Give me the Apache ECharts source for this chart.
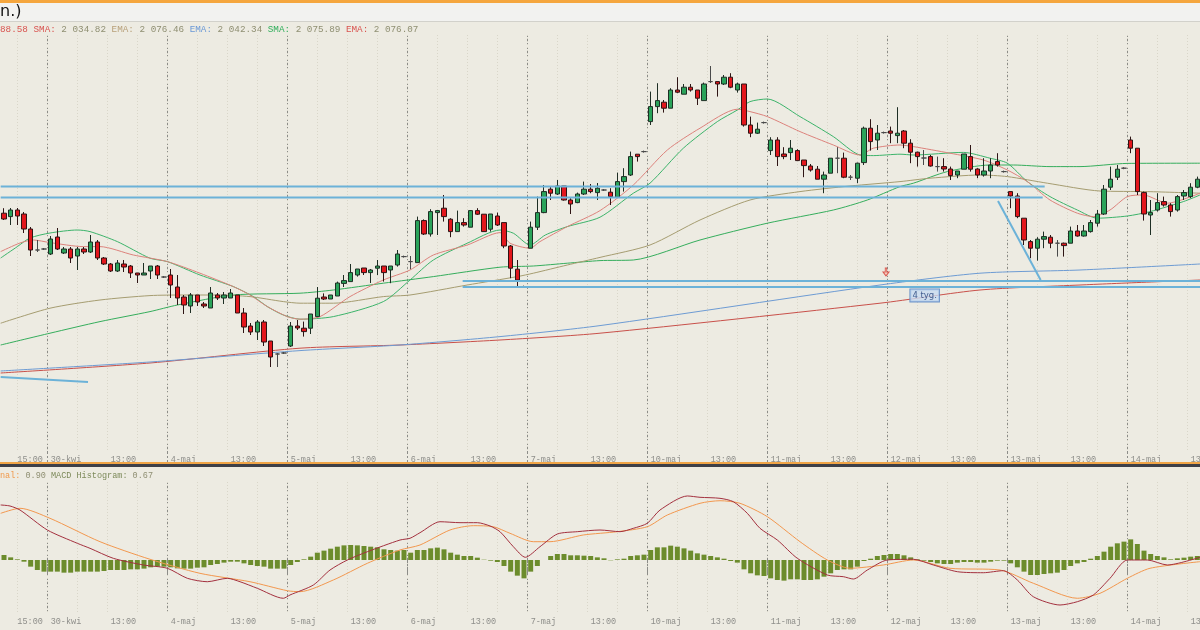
<!DOCTYPE html>
<html><head><meta charset="utf-8">
<script src="https://cdn.jsdelivr.net/npm/echarts@6/dist/echarts.min.js"></script>
<style>html,body{margin:0;padding:0;background:#edebe2;}#c{width:1200px;height:630px;}</style>
</head><body><div id="c"></div>
<script>
// ---- tick labels (bar index -> text)
const tickIndex = [2,7,16,25,34,43,52,61,70,79,88,97,106,115,124,133,142,151,160,169,178];
const tickText = ['15:00','30-kwi','13:00','4-maj','13:00','5-maj','13:00','6-maj','13:00','7-maj','13:00','10-maj','13:00','11-maj','13:00','12-maj','13:00','13-maj','13:00','14-maj','13:00'];

// ---- candles
const opens = [2063.4,2061.7,2065,2063,2055.5,2045,2045.5,2043,2051.5,2043.5,
2045.5,2042,2045.5,2044,2049,2041,2038,2034.5,2038,2037,
2033.5,2032.5,2034.5,2037,2031.5,2032.5,2026.5,2021.5,2017,2022.5,
2018,2016,2022.5,2021,2021,2022.5,2013.5,2007,2004,2009,
1999.5,1993,1993.5,1997,2007,2005.9,2005.9,2011.7,2021.5,2020.5,
2022,2028.3,2029.2,2032.5,2036,2033.7,2035.9,2037,2035,2037.5,
2041.7,2039.2,2038.7,2059.7,2053,2063.7,2065.9,2060.4,2054.2,2058.7,
2056.4,2064.7,2062.9,2055.4,2062,2058.7,2047,2035.4,2026.7,2045.9,
2056.4,2063.7,2075.4,2073,2077,2070,2068.7,2073,2075.4,2073.7,
2075,2073.9,2071.4,2079.2,2082.5,2092.9,2094.2,2109.2,2116.7,2118.9,
2115.9,2125,2122.9,2126.4,2125,2119.7,2129.2,2129.2,2128,2131.4,
2125,2128,2107.5,2103.4,2108.7,2094.7,2100,2093,2093.7,2094.7,
2090,2087,2085.4,2080.4,2083.4,2090.9,2090.9,2081.4,2080.9,2088.7,
2105.9,2100,2103.7,2104.5,2102.2,2104.5,2098.4,2093.9,2091,2091.7,
2086.7,2086.7,2085.5,2082.5,2085.4,2091.7,2085.5,2082.5,2084.5,2089.2,
2084.2,2074.2,2072,2060.9,2049.2,2045.9,2050.4,2051.4,2048.4,2048.4,
2048.4,2054.5,2052,2054.2,2058.4,2063,2076.4,2081.4,2085.9,2100,
2095.9,2073.7,2062.5,2065,2069.2,2067.5,2065,2072,2071.7,2076.4];
const closes = [2060.5,2065,2062,2055.5,2045,2045,2045.5,2050.5,2045.5,2045.5,
2041,2045.5,2044,2049,2041,2038,2034.5,2038.5,2036.5,2033.5,
2032.5,2033.5,2037,2032.5,2031.5,2027.5,2021,2017.5,2022.5,2019,
2017,2023.5,2021,2022.5,2023.5,2013.5,2006.5,2004,2009,1999,
1991.5,1993,1993.5,2007,2006,2004.2,2013,2020.9,2020.5,2022.5,
2028.5,2029.7,2033.7,2035.5,2033.7,2035,2037,2033.7,2037,2043,
2041.7,2039.2,2059.7,2053,2064.2,2064.7,2061.7,2054.2,2058.7,2057.5,
2064.7,2062.9,2054.2,2063,2057.5,2047,2035.9,2030,2026.7,2056.4,
2063.7,2074.2,2073.4,2077,2070,2068,2073,2075.4,2074.2,2075.9,
2075,2071.7,2079.2,2081.7,2091.7,2091.7,2094.2,2116.7,2119.7,2115.9,
2125,2123.9,2126.4,2125,2120.9,2128,2129.2,2128,2131.4,2126.4,
2128,2107.5,2103.4,2105.4,2108.7,2100,2091.7,2091.7,2095.9,2089.7,
2087.2,2085,2080.4,2082.5,2090.9,2090.9,2081.4,2081.4,2088.4,2105.9,
2099.2,2103.4,2103.7,2103.4,2103.4,2098.4,2093.9,2091.7,2091,2087,
2086.7,2085.5,2082.2,2084.5,2093,2085.4,2082.5,2084.5,2087.5,2087.5,
2084.2,2072,2061.7,2050,2045.9,2050.4,2051.7,2048.4,2048.4,2047.2,
2054.5,2052,2054.5,2058.7,2063,2075.4,2080.4,2085.4,2085.9,2095.9,
2074.2,2063,2063.7,2068.7,2067.5,2064.2,2071.7,2073.7,2076.4,2080.4];
const lows = [2060,2057.5,2057.5,2053.5,2042,2044,2045,2042.5,2045,2043,
2038.5,2035,2043,2043.5,2040,2037.5,2034,2034,2034,2031,
2028.5,2032.5,2030.5,2030.5,2031,2021,2017.5,2013,2013.5,2017,
2016,2016,2020,2018,2021,2013.5,2003.5,2002.5,2000,1997,
1986.5,1986.5,1993,1996.5,2005,2001.7,2003,2011.7,2020,2020.5,
2022,2026.5,2029.2,2031.7,2032.5,2028.5,2032.5,2029.2,2028.4,2036.7,
2041.2,2035.4,2038.7,2052.5,2051.7,2052.5,2059.2,2051.4,2054.2,2056.7,
2056.4,2062.5,2054.2,2054.2,2057,2045.9,2030.9,2027,2026.2,2045.9,
2055,2063.4,2070,2072.5,2069.7,2063,2068.4,2072.5,2073.4,2070,
2074.5,2067.5,2071.4,2074.2,2082,2089.2,2093.7,2107.5,2113.4,2113.7,
2115.9,2123.4,2122.9,2124.2,2117.5,2119.7,2128.5,2121.7,2127.5,2125.9,
2123.7,2106.7,2101.4,2103,2108.2,2092.5,2087,2090.4,2090,2089.7,
2081.4,2084.2,2080.4,2073.4,2083.4,2083.4,2080.9,2080,2078.4,2087.5,
2094.7,2095,2103.2,2098.4,2098.4,2095.9,2088.4,2086.7,2087.5,2086.7,
2084.2,2084.2,2080,2080.9,2085.4,2084.2,2080.9,2081.7,2080.9,2086.7,
2083.7,2065.9,2060.9,2047.5,2040.9,2039.7,2045.9,2045.9,2041.7,2041.7,
2048.4,2051.7,2051.7,2053.7,2056.7,2062.5,2075,2080,2085.4,2093.4,
2072.5,2059.7,2052.5,2064.2,2066.7,2061.7,2064.2,2070,2070.9,2075.9];
const highs = [2065.9,2066,2066,2064,2056.5,2050,2046,2052,2056,2046.5,
2046.5,2046.5,2046.5,2052.5,2050,2041.5,2038.5,2040,2040,2037.5,
2033.5,2038.5,2037,2037.5,2032,2035.5,2032.5,2022.5,2023.5,2022.5,
2019,2026.5,2023.5,2024,2025.5,2022.5,2016,2008.5,2010,2010,
1999.5,1993.5,1994,2009,2010,2009.2,2013,2026.5,2023.3,2022.5,
2029.2,2032.5,2038,2035.5,2036,2035.5,2040,2037,2037,2045,
2042.2,2042,2061.7,2060.3,2065.4,2065,2072.5,2060.9,2064.7,2060.9,
2065,2065.9,2062.9,2063,2063.7,2058.7,2047.5,2040,2027.2,2059.2,
2071.7,2077.5,2077,2080,2077,2070.9,2073.7,2079.2,2078,2078.5,
2075.5,2075.9,2083.7,2085.9,2094.2,2092.9,2094.7,2124.2,2128.4,2120,
2125.9,2131.4,2128,2128,2125,2128.7,2137,2129.2,2132.5,2133.4,
2128.7,2128,2111.7,2108.7,2109.2,2101.4,2101.4,2096.4,2100,2095.4,
2090,2088,2087,2084.2,2090.9,2096.4,2093.7,2082.5,2088.7,2106.7,
2110.4,2107.5,2104.2,2106.7,2116.4,2105,2100.4,2094.2,2095,2092.5,
2091.7,2090.9,2086.7,2084.5,2093,2097.5,2085.9,2090.9,2090.9,2093.4,
2084.7,2074.2,2073.4,2060.9,2050,2051.4,2054.2,2052.5,2050,2048.7,
2056.7,2057.5,2057.5,2060,2065,2077.5,2086.7,2087.5,2086.4,2101.7,
2095.9,2074.2,2070,2073.4,2071.7,2068.4,2072.5,2075,2078.4,2081.7];

// ---- moving averages: [bar, price]
const emaFast = [[-0.5,2044.2],[2.4,2048.5],[4.4,2050],[6.9,2048.7],[11.9,2046.7],[14.4,2046.7],[19.4,2042.5],[24.5,2039.2],[29.4,2033.4],[34.4,2026.7],[36.9,2022.5],[39.5,2016.7],[42.5,2011.7],[44.4,2010.4],[47.4,2011.7],[51.9,2021.7],[56.9,2030],[60.9,2035],[64.4,2042.5],[69.5,2047.5],[74.4,2053.7],[75.9,2048.4],[78.9,2045.9],[80.4,2049.2],[84.5,2056.7],[89.4,2064.7],[94.4,2077.5],[99.5,2095],[104.4,2105.9],[110,2115.4],[111.9,2114.2],[114.5,2111.7],[119.4,2104.2],[124.4,2097.5],[128.4,2092.5],[130.4,2095.9],[134.4,2097.5],[136.4,2096.7],[141.9,2093.4],[146.9,2090],[150.5,2085],[153.5,2079.2],[156.9,2070],[161,2063.4],[163.4,2061.7],[165.9,2065],[168.5,2071.7],[170.9,2072.5],[174.5,2068.4],[179.4,2073.4]];
const smaFast = [[-0.5,2041],[2,2046.7],[3.9,2051],[6.9,2053.5],[11,2055],[12.9,2054.2],[17,2049.2],[21.9,2040.9],[24.5,2039.2],[29.4,2032.5],[34.4,2026.7],[37.4,2021.7],[39.5,2016.7],[41.9,2012.5],[44.4,2010.4],[49.4,2011.7],[56.9,2019.2],[60.9,2030],[64.4,2040],[69.5,2048.4],[74.4,2055],[76.4,2053.4],[78.9,2047.5],[81.2,2052.5],[84.5,2056.7],[89.4,2061.4],[94.4,2073.4],[96.9,2078.4],[101.9,2095.9],[107,2109.2],[110,2115],[111.9,2119.2],[114.5,2120.5],[119.4,2111.7],[124.4,2101.7],[128.4,2092.5],[130.4,2092.2],[134.4,2092.9],[136.4,2092.5],[143.9,2093.8],[147.9,2090.9],[150.5,2088.4],[153.5,2079.2],[156.9,2071.7],[161,2065],[164,2060.9],[168.5,2062],[171.9,2064.2],[176.9,2069.2],[179.4,2072.5]];
const emaSlow = [[-0.5,2008.4],[6.9,2015.9],[14.4,2020],[21.9,2022.2],[26.9,2022.5],[32,2022.5],[36.9,2021.7],[41.9,2019.2],[44.4,2018.4],[49.4,2018.4],[56.9,2021.7],[60.9,2022.5],[69.5,2027.5],[77,2031.7],[79.4,2033.4],[84.5,2037.5],[89.4,2041.3],[96.9,2047.5],[104.4,2060],[111.9,2070],[119.4,2074.2],[126.9,2077],[134.4,2079.2],[138.9,2080.9],[146.4,2082.5],[150.5,2081.7],[156.5,2078.4],[164.4,2074.5],[171.5,2074.2],[179.4,2073.4]];
const smaSlow = [[-0.5,1997.5],[6.9,2003.4],[14.4,2009.2],[21.9,2014.2],[26,2017.5],[34.4,2022.5],[44.4,2023.4],[49.4,2025],[56.9,2028.4],[64.4,2031.7],[74.4,2036.4],[79.4,2037],[84.5,2038.4],[89.4,2039.7],[94.4,2040],[104.4,2050],[114.5,2058.4],[124.4,2065],[129.5,2070],[134.4,2076.7],[136.4,2078.4],[141.5,2084.2],[147.9,2087.5],[151.4,2087.5],[156.9,2086.7],[161.4,2086.7],[168.5,2088.3],[179.4,2088.4]];
const emaLong = [[-0.5,1984.5],[21.9,1989],[44.4,1994.7],[59.4,1997.5],[74.4,2001.7],[89.4,2007.2],[131.4,2027.5],[146.4,2033.4],[161.4,2035],[179.4,2038]];
const smaLong = [[-0.5,1983.5],[21.9,1988.5],[44.4,1995.9],[59.4,1997.5],[74.4,2000],[89.4,2003.4],[131.4,2018.4],[146.4,2025],[161.4,2027.5],[179.4,2030]];

// ---- hand-drawn trend lines [bar, price]
const trendLines = [
  [[-0.5,2076.75],[156.1,2076.75]],
  [[-0.5,2071.25],[155.8,2071.25]],
  [[68.8,2029.5],[179.5,2029.5]],
  [[68.8,2026.5],[179.5,2026.5]],
  [[-0.5,1981.5],[12.6,1979]],
  [[149.1,2069.5],[155.5,2030]]
];
const noteLabel = [138.1, 2022.3];
const notePoint = [132.3, 2034];

// ---- MACD
const macdHist = [0.83,0.44,0.11,-0.28,-1.11,-1.67,-1.94,-1.94,-1.94,-2.11,
-2.11,-1.94,-1.94,-1.94,-1.94,-1.83,-1.67,-1.67,-1.67,-1.56,
-1.56,-1.44,-1.22,-1.11,-1.11,-1.22,-1.39,-1.44,-1.44,-1.28,
-1.22,-0.83,-0.67,-0.44,-0.28,-0.28,-0.56,-0.83,-1.0,-1.11,
-1.44,-1.44,-1.44,-0.83,-0.33,0.11,0.56,1.22,1.56,1.89,
2.22,2.44,2.5,2.44,2.33,2.22,2.11,1.78,1.67,1.56,
1.67,1.22,1.67,1.67,1.94,2.06,1.78,1.22,0.89,0.67,
0.67,0.39,0.05,-0.11,-0.33,-1.0,-1.94,-2.61,-3.06,-1.94,
-1.0,0.0,0.67,1.0,1.0,0.78,0.78,0.72,0.67,0.44,
0.28,-0.05,0.11,0.22,0.67,0.78,0.89,1.67,2.11,2.11,
2.39,2.22,1.94,1.56,1.11,0.89,0.67,0.44,0.22,-0.17,
-0.44,-1.56,-2.22,-2.56,-2.67,-3.06,-3.33,-3.44,-3.22,-3.22,
-3.33,-3.33,-3.22,-2.78,-2.22,-1.67,-1.56,-1.56,-1.11,-0.17,
0.22,0.67,0.83,1.0,1.0,0.78,0.44,0.11,-0.11,-0.33,
-0.56,-0.67,-0.67,-0.44,-0.33,-0.33,-0.44,-0.44,-0.28,-0.11,
-0.11,-0.56,-1.22,-1.94,-2.5,-2.5,-2.33,-2.22,-2.11,-1.67,
-1.0,-0.56,-0.33,0.22,0.67,1.39,2.22,2.78,3.06,3.44,
2.67,1.56,1.0,0.67,0.44,0.11,0.28,0.39,0.56,0.67];
const macdLine = [[-0.5,9.17],[0.9,9.0],[2.4,8.33],[6.5,5.0],[11,2.78],[12.9,1.95],[16.4,0.28],[20.9,-0.83],[24.5,-1.38],[27.5,-3.05],[30.5,-3.62],[33.5,-3.05],[35.4,-3.62],[38,-4.72],[41.9,-6.38],[42.9,-5.83],[46.4,-4.17],[48.9,-1.67],[51.5,0],[54.5,1.38],[59.4,3.33],[60.9,3.62],[62.4,4.55],[65.4,6.38],[68.4,6.22],[71,6.22],[72.9,5.67],[74.4,4.72],[76.4,2.22],[78.2,0.45],[80.4,2.22],[83,4.33],[86,4.72],[89.4,5.0],[92.4,4.72],[94.4,5.28],[96.5,6.12],[98.4,8.33],[102.5,10.67],[104.4,10.45],[107.4,10.28],[109.4,9.72],[111.5,7.78],[113.4,5.28],[116,3.33],[119,0.28],[123.5,-2.5],[125.9,-2.78],[127.4,-3.17],[129.5,-1.67],[132.5,0],[136.4,0.12],[139.4,-0.83],[143,-1.95],[146.9,-2.12],[149.9,-1.78],[152,-3.33],[154.4,-6.12],[158.4,-7.5],[161,-6.95],[163.4,-5.83],[165.9,-3.05],[168.5,0],[171.5,0],[174.5,-0.83],[179.4,0.45]];
const signalLine = [[-0.5,7.78],[2.4,8.62],[6.9,6.95],[14.4,3.05],[21.9,0.12],[29.4,-2.22],[36.9,-3.62],[42.5,-5.12],[44.4,-5.28],[49.4,-3.33],[54.5,-0.55],[59.4,1.67],[62.4,2.5],[66.9,5.0],[70.4,5.72],[73.4,5.55],[75.9,4.45],[79.4,3.05],[81.9,3.05],[86.9,4.17],[92,4.72],[96.5,5.55],[99.5,7.5],[104.4,9.45],[107.4,9.88],[110.4,9.45],[114.5,7.22],[119.4,3.05],[123.5,0],[126.9,-1.38],[131.9,-0.83],[136.4,0],[141.9,-1.38],[149.4,-1.67],[154.4,-3.88],[161,-6.38],[164.4,-5.55],[168.5,-3.05],[171.9,-1.38],[179.4,-0.28]];

// ---- build chart
const N = opens.length;
const cats = opens.map((_, i) => String(i));
const halfCats = Array.from({length: N * 2}, (_, i) => String(i));
const labelMap = {};
tickIndex.forEach((t, i) => { labelMap[t] = tickText[i]; });
const isLabel = i => labelMap[i] !== undefined;
const isDay = i => isLabel(i) && labelMap[i].indexOf(':') < 0;
const MONO = '"Liberation Mono", "DejaVu Sans Mono", monospace';
const dayLine = { color: '#8c8c88', type: [2, 2], width: 1 };

function catAxis(grid, tickLen) {
  return {
    type: 'category', gridIndex: grid, data: cats, boundaryGap: true,
    axisLine: { show: false },
    axisTick: { show: true, interval: (i) => isDay(i), length: tickLen, lineStyle: dayLine },
    splitLine: { show: true, interval: (i) => isDay(i), lineStyle: dayLine },
    axisLabel: { show: true, interval: (i) => isLabel(i), formatter: (v) => labelMap[+v] || '',
      align: 'left', color: '#8e8e8a', fontFamily: MONO, fontSize: 8.5, margin: 3 }
  };
}
function minorAxis(grid) {
  return {
    type: 'category', gridIndex: grid, data: halfCats, boundaryGap: true,
    axisLine: { show: false }, axisTick: { show: false }, axisLabel: { show: false },
    splitLine: { show: true, interval: (i) => (i - 14) % 9 === 0, lineStyle: { color: '#d9d6c9', type: [1, 2], width: 1 } }
  };
}
function valAxis(grid) {
  return { type: 'value', gridIndex: grid, min: -0.5, max: N - 0.5, show: false };
}
function maSeries(name, data, color) {
  return { name, type: 'line', xAxisIndex: 2, yAxisIndex: 0, data, showSymbol: false, symbol: 'none',
    smooth: 0.25, lineStyle: { color, width: 1 }, z: 2, silent: true };
}

const series = [
  maSeries('SMA long', smaLong, '#c8504a'),
  maSeries('EMA long', emaLong, '#6d9bd3'),
  maSeries('SMA slow', smaSlow, '#35ad5c'),
  maSeries('EMA slow', emaSlow, '#a59c70'),
  maSeries('SMA fast', smaFast, '#3cb36a'),
  maSeries('EMA fast', emaFast, '#dc827c'),
  {
    type: 'candlestick', xAxisIndex: 0, yAxisIndex: 0, barWidth: 5, z: 3,
    data: opens.map((o, i) => [o, closes[i], lows[i], highs[i]]),
    itemStyle: { color: '#2aa35a', color0: '#e3161c', borderColor: '#1e2e24', borderColor0: '#2e1414', borderColorDoji: '#4a4a4a', borderWidth: 1 }
  }
];
trendLines.forEach((seg) => {
  series.push({ type: 'line', xAxisIndex: 2, yAxisIndex: 0, data: seg, showSymbol: false, symbol: 'none',
    lineStyle: { color: '#6cb2d8', width: 2 }, z: 4, silent: true });
});
series.push({
  type: 'scatter', xAxisIndex: 2, yAxisIndex: 0, data: [notePoint], z: 5,
  symbol: 'path://M3,0 L5,0 L5,5 L8,5 L4,10 L0,5 L3,5 Z', symbolSize: [6, 8],
  itemStyle: { color: '#f6c4b4', borderColor: '#d43a32', borderWidth: 1 }
});
series.push({
  type: 'scatter', xAxisIndex: 2, yAxisIndex: 0, data: [noteLabel], z: 6, symbolSize: 1,
  itemStyle: { color: 'rgba(0,0,0,0)' },
  label: { show: true, position: 'inside', formatter: '4 tyg.', color: '#1d3c78', fontSize: 8.5,
    fontFamily: '"DejaVu Sans", sans-serif', backgroundColor: '#c7dbf1', borderColor: '#4f7fc4', borderWidth: 1, padding: [2, 2, 1, 2] }
});
series.push({ type: 'bar', xAxisIndex: 1, yAxisIndex: 1, data: macdHist, barWidth: 5,
  itemStyle: { color: '#6c8c2c' }, z: 2, silent: true });
series.push({ type: 'line', xAxisIndex: 3, yAxisIndex: 1, data: signalLine, showSymbol: false, symbol: 'none',
  smooth: 0.25, lineStyle: { color: '#f2974e', width: 1 }, z: 3, silent: true });
series.push({ type: 'line', xAxisIndex: 3, yAxisIndex: 1, data: macdLine, showSymbol: false, symbol: 'none',
  smooth: 0.25, lineStyle: { color: '#a3303e', width: 1 }, z: 4, silent: true });

const LF = '9.3px ' + MONO;
const chart = echarts.init(document.getElementById('c'), null, { renderer: 'canvas' });
chart.setOption({
  animation: false,
  backgroundColor: '#edebe2',
  grid: [
    { left: 0.67, top: 35, width: 1200, height: 417, outerBoundsMode: 'none', containLabel: false },
    { left: 0.67, top: 482, width: 1200, height: 132, outerBoundsMode: 'none', containLabel: false }
  ],
  xAxis: [catAxis(0, 12), catAxis(1, 16), valAxis(0), valAxis(1), minorAxis(0), minorAxis(1)],
  yAxis: [
    { type: 'value', gridIndex: 0, min: 1944, max: 2152.5, show: false },
    { type: 'value', gridIndex: 1, min: -9, max: 13, show: false }
  ],
  graphic: [
    { type: 'rect', z: 100, shape: { x: 0, y: 0, width: 1200, height: 3 }, style: { fill: '#f5a63e' } },
    { type: 'rect', z: 100, shape: { x: 0, y: 3, width: 1200, height: 18 }, style: { fill: '#f2f2f0' } },
    { type: 'rect', z: 100, shape: { x: 0, y: 21, width: 1200, height: 1 }, style: { fill: '#d2d1cb' } },
    { type: 'text', z: 101, x: 0, y: 4, style: { text: 'n.)', font: '16px "DejaVu Sans", sans-serif', fill: '#151515' } },
    { type: 'text', z: 101, x: 0, y: 25, style: {
      text: '{r|88.58} {r|SMA:} {n|2 034.82} {o|EMA:} {n|2 076.46} {b|EMA:} {n|2 042.34} {g|SMA:} {n|2 075.89} {r|EMA:} {n|2 076.07}',
      font: LF, fill: '#8f8f72',
      rich: {
        r: { fill: '#d9534f', font: LF }, n: { fill: '#8f8f72', font: LF },
        o: { fill: '#b8a07a', font: LF }, b: { fill: '#6a98d6', font: LF },
        g: { fill: '#2fae5a', font: LF }
      } } },
    { type: 'rect', z: 100, shape: { x: 0, y: 462, width: 1200, height: 2 }, style: { fill: '#f0a446' } },
    { type: 'rect', z: 100, shape: { x: 0, y: 464, width: 1200, height: 3 }, style: { fill: '#3d3f48' } },
    { type: 'text', z: 101, x: 0, y: 471.5, style: {
      text: '{s|nal:} {n|0.90} {m|MACD Histogram:} {n|0.67}',
      font: '8.5px ' + MONO, fill: '#8f8f72',
      rich: {
        s: { fill: '#f09a4e', font: '8.5px ' + MONO }, n: { fill: '#8f8f72', font: '8.5px ' + MONO },
        m: { fill: '#7d8a5a', font: '8.5px ' + MONO }
      } } }
  ],
  series
});
</script>
</body></html>
